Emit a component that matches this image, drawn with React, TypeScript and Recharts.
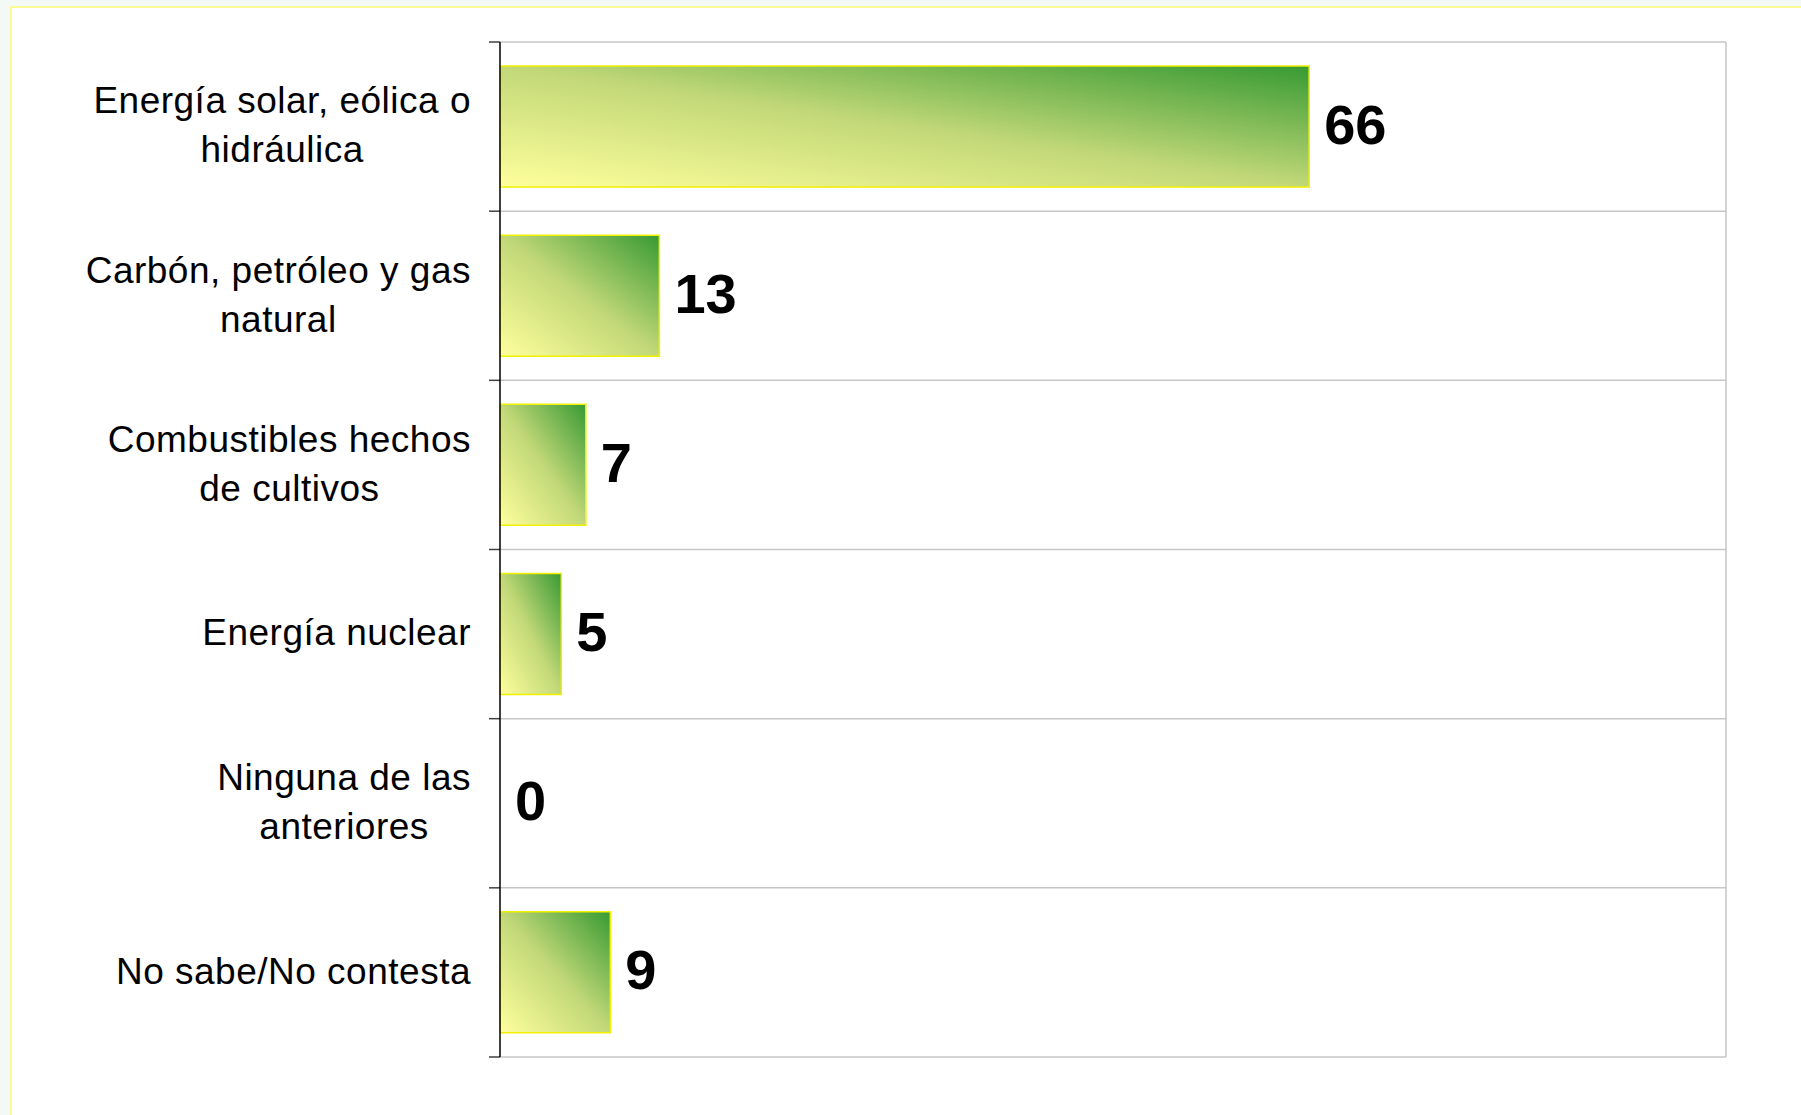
import { BarChart, Bar, XAxis, YAxis, CartesianGrid, LabelList, Cell } from 'recharts'

const categories = [
  'Energía solar, eólica o hidráulica',
  'Carbón, petróleo y gas natural',
  'Combustibles hechos de cultivos',
  'Energía nuclear',
  'Ninguna de las anteriores',
  'No sabe/No contesta'
]
const values = [66, 13, 7, 5, 0, 9]
// how each tick label is broken into lines, as in the original
const tickLines = [
  ['Energía solar, eólica o', 'hidráulica'],
  ['Carbón, petróleo y gas', 'natural'],
  ['Combustibles hechos', 'de cultivos'],
  ['Energía nuclear'],
  ['Ninguna de las', 'anteriores'],
  ['No sabe/No contesta']
]

const data = categories.map((name, i) => ({ name, value: values[i] }))

const FONT = '"Liberation Sans", Arial, Helvetica, sans-serif'
const TICK_SIZE = 37
const TICK_SPACING = 0.5

let ctx: CanvasRenderingContext2D | null = null
const measure = (s: string) => {
  if (!ctx) ctx = document.createElement('canvas').getContext('2d')
  if (!ctx) return s.length * TICK_SIZE * 0.5
  ctx.font = `${TICK_SIZE}px "Liberation Sans", Arial`
  return ctx.measureText(s).width + s.length * TICK_SPACING
}

// multi-line label, lines centred on each other, block right-aligned at x
const CategoryTick = (props: any) => {
  const { x, y, payload } = props
  const lines = tickLines[categories.indexOf(payload.value)] || [payload.value]
  const w = Math.max(...lines.map(measure))
  const cx = x - w / 2
  const lh = 49
  const y0 = y - 2 - ((lines.length - 1) * lh) / 2
  return (
    <text textAnchor='middle' fontSize={TICK_SIZE} fontFamily={FONT} fill='#000' letterSpacing={TICK_SPACING}>
      {lines.map((l, i) => (
        <tspan key={i} x={cx} y={y0 + i * lh} dy='0.36em'>{l}</tspan>
      ))}
    </text>
  )
}

const ValueLabel = (p: any) => (
  <text
    x={p.x + p.width + 15}
    y={p.y + p.height / 2 - 3}
    dy='0.36em'
    fontSize={56}
    fontWeight='bold'
    fontFamily={FONT}
    fill='#000'
  >
    {p.value}
  </text>
)

const gridLine = (p: any) => (
  <g key={p.key ?? `h-${p.index}`}>
    <line x1={p.x1} x2={p.x2} y1={p.y1} y2={p.y2} stroke='#c6c6c6' strokeWidth={1.5} />
    <line x1={p.x1 - 11} x2={p.x1} y1={p.y1} y2={p.y2} stroke='#404040' strokeWidth={1.5} />
  </g>
)

export default function App () {
  return (
    <div style={{ position: 'absolute', left: 0, top: 0, width: 1801, height: 1115, background: '#f3faf6', overflow: 'hidden' }}>
      <div style={{ position: 'absolute', left: 10, top: 6, width: 1801, height: 1115, background: '#fff', border: '2px solid #fbfb96' }} />
      <div style={{ position: 'absolute', left: 0, top: 0 }}>
        <BarChart
          layout='vertical'
          width={1801}
          height={1115}
          data={data}
          margin={{ top: 42, right: 75, bottom: 58, left: 0 }}
        >
          <defs>
            <linearGradient id='barGrad' x1='0' y1='1' x2='1' y2='0'>
              <stop offset='0%' stopColor='#ffff9c' />
              <stop offset='50%' stopColor='#c2d878' />
              <stop offset='100%' stopColor='#379a33' />
            </linearGradient>
          </defs>
          <CartesianGrid
            horizontalCoordinatesGenerator={({ offset }: any) =>
              categories.map((_, i) => offset.top + (i * offset.height) / categories.length).concat(offset.top + offset.height)}
            verticalCoordinatesGenerator={({ offset }: any) => [offset.left + offset.width]}
            horizontal={gridLine}
            stroke='#c6c6c6'
            strokeWidth={1.5}
          />
          <XAxis type='number' domain={[0, 100]} hide />
          <YAxis
            type='category'
            dataKey='name'
            width={500}
            tickLine={false}
            tickSize={0}
            tickMargin={29}
            axisLine={{ stroke: '#000', strokeWidth: 1.5 }}
            tick={<CategoryTick />}
            interval={0}
          />
          <Bar
            dataKey='value'
            fill='url(#barGrad)'
            stroke='#f0f000'
            strokeWidth={1.5}
            barSize={121}
            minPointSize={0.01}
            isAnimationActive={false}
          >
            {data.map((d, i) => (
              <Cell key={i} stroke={d.value === 0 ? 'none' : '#f0f000'} fill={d.value === 0 ? 'none' : 'url(#barGrad)'} />
            ))}
            <LabelList dataKey='value' content={<ValueLabel />} />
          </Bar>
        </BarChart>
      </div>
    </div>
  )
}
